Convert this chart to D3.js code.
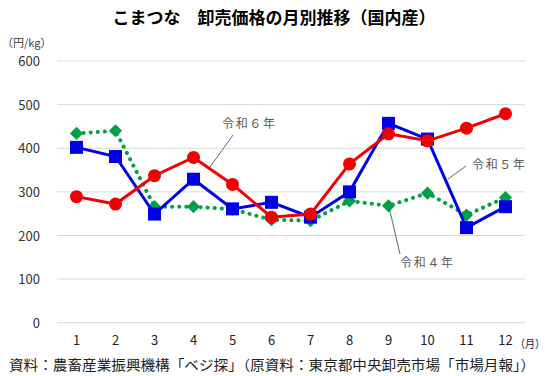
<!DOCTYPE html>
<html>
<head>
<meta charset="utf-8">
<script src="https://cdn.jsdelivr.net/npm/d3@7"></script>
<style>
  body { margin: 0; background: #fff; }
  text { font-family: "Noto Sans CJK JP", "Noto Sans", sans-serif; }
</style>
</head>
<body>
<div id="chart"></div>
<script>
var months = [1, 2, 3, 4, 5, 6, 7, 8, 9, 10, 11, 12];
var yTicks = [0, 100, 200, 300, 400, 500, 600];
var r4 = [434, 440, 266, 266, 260, 236, 234, 279, 268, 297, 247, 287];
var r5 = [402, 381, 249, 329, 261, 276, 242, 300, 457, 421, 218, 266];
var r6 = [289, 272, 337, 379, 317, 242, 249, 364, 433, 417, 446, 479];

var w = 550, h = 376;
var svg = d3.select('#chart').append('svg')
  .attr('width', w)
  .attr('height', h);

var x = d3.scaleBand().domain(months).range([57, 525]);
var y = d3.scaleLinear().domain([0, 600]).range([322.7, 61]);
function cx(d, i) { return x(months[i]) + x.bandwidth() / 2; }

// title
svg.append('text')
  .attr('x', 274).attr('y', 24)
  .attr('text-anchor', 'middle')
  .attr('font-size', 17).attr('font-weight', 'bold')
  .attr('fill', '#000')
  .text('こまつな　卸売価格の月別推移（国内産）');

svg.append('text')
  .attr('x', 2).attr('y', 47)
  .attr('font-size', 11).attr('fill', '#404040')
  .text('（円/kg）');

// grid
svg.append('g').selectAll('line').data(yTicks).enter().append('line')
  .attr('x1', 57).attr('x2', 525)
  .attr('y1', function(d) { return y(d); })
  .attr('y2', function(d) { return y(d); })
  .attr('stroke', '#d9d9d9').attr('stroke-width', 1);

// y axis
var yAxis = d3.axisLeft(y).tickValues(yTicks).tickSize(0).tickPadding(0);
var gy = svg.append('g').attr('transform', 'translate(40,0)').call(yAxis);
gy.select('.domain').remove();
gy.selectAll('text').attr('font-size', 13).attr('fill', '#333').attr('dy', '0.35em');

// x axis
var xAxis = d3.axisBottom(x).tickSize(0).tickPadding(0);
var gx = svg.append('g').attr('transform', 'translate(0,336)').call(xAxis);
gx.select('.domain').remove();
gx.selectAll('text').attr('font-size', 13).attr('fill', '#222').attr('dy', '0.71em');

svg.append('text')
  .attr('x', 515).attr('y', 348)
  .attr('font-size', 11).attr('fill', '#222')
  .attr('textLength', 30).attr('lengthAdjust', 'spacingAndGlyphs')
  .text('（月）');

var line = d3.line().x(cx).y(function(d) { return y(d); });

// 令和4年 (green dotted diamonds)
svg.append('path').datum(r4)
  .attr('d', line).attr('fill', 'none')
  .attr('stroke', '#00a04a').attr('stroke-width', 4)
  .attr('stroke-linecap', 'round').attr('stroke-dasharray', '0.1 7');
svg.append('g').selectAll('path').data(r4).enter().append('path')
  .attr('d', d3.symbol().type(d3.symbolDiamond2).size(110))
  .attr('transform', function(d, i) { return 'translate(' + cx(d, i) + ',' + y(d) + ')'; })
  .attr('fill', '#00a04a');

// 令和5年 (blue squares)
svg.append('path').datum(r5)
  .attr('d', line).attr('fill', 'none')
  .attr('stroke', '#0000e6').attr('stroke-width', 3);
svg.append('g').selectAll('rect').data(r5).enter().append('rect')
  .attr('x', function(d, i) { return cx(d, i) - 6.5; })
  .attr('y', function(d) { return y(d) - 6.5; })
  .attr('width', 13).attr('height', 13)
  .attr('fill', '#0000e6');

// 令和6年 (red circles)
svg.append('path').datum(r6)
  .attr('d', line).attr('fill', 'none')
  .attr('stroke', '#f00000').attr('stroke-width', 3);
svg.append('g').selectAll('circle').data(r6).enter().append('circle')
  .attr('cx', cx)
  .attr('cy', function(d) { return y(d); })
  .attr('r', 6.5)
  .attr('fill', '#f00000');

// annotations
var notes = [
  { t: '令和６年', tx: 222, ty: 128, x1: 233, y1: 135, x2: 210, y2: 167 },
  { t: '令和５年', tx: 472, ty: 169, x1: 466, y1: 166, x2: 448, y2: 179 },
  { t: '令和４年', tx: 400, ty: 267, x1: 389, y1: 207, x2: 400, y2: 254 }
];
notes.forEach(function(n) {
  svg.append('line')
    .attr('x1', n.x1).attr('y1', n.y1).attr('x2', n.x2).attr('y2', n.y2)
    .attr('stroke', '#404040').attr('stroke-width', 0.8);
  svg.append('text')
    .attr('x', n.tx).attr('y', n.ty)
    .attr('font-size', 12).attr('fill', '#595959')
    .attr('textLength', 53).attr('lengthAdjust', 'spacing')
    .text(n.t);
});

// source
svg.append('text')
  .attr('x', 9).attr('y', 370)
  .attr('font-size', 14).attr('fill', '#222')
  .attr('textLength', 526).attr('lengthAdjust', 'spacingAndGlyphs')
  .text('資料：農畜産業振興機構「ベジ探」（原資料：東京都中央卸売市場「市場月報」）');
</script>
</body>
</html>
